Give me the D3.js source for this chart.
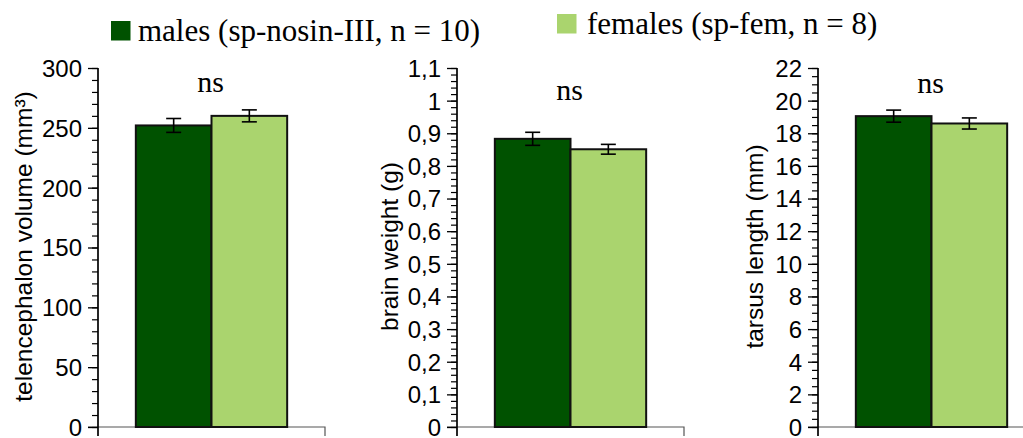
<!DOCTYPE html>
<html>
<head>
<meta charset="utf-8">
<script src="https://cdn.jsdelivr.net/npm/d3@7"></script>
<style>
  body { margin: 0; background: #fff; }
  svg { display: block; }
</style>
</head>
<body>
<svg id="chart" width="1023" height="438"></svg>
<script>
// ---- data ----
const series = ["males (sp-nosin-III, n = 10)", "females (sp-fem, n = 8)"];
const seriesKeys = ["males", "females"];
const colors = ["#005200", "#aad46e"];

const panelTitles = ["telencephalon volume (mm³)", "brain weight (g)", "tarsus length (mm)"];
const panelMeans = [[252, 260], [0.883, 0.851], [19.05, 18.6]];
const panelErrors = [[5.8, 5.0], [0.02, 0.015], [0.37, 0.34]];
const panelMax = [300, 1.1, 22];
const panelMajor = [50, 0.1, 2];
const panelMinor = [10, 0.02, 0.5];
const panelSig = ["ns", "ns", "ns"];

// ---- layout ----
const SERIF = '"Liberation Serif", "Times New Roman", serif';
const SANS = '"Liberation Sans", Arial, sans-serif';
const svg = d3.select("#chart");
const axisXs = [98, 457, 818];
const titleOffsets = [66, 59, 55];
const sigY = [92, 100, 93];
const panelSpan = 227;
const yTop = 68, yBottom = 427;
const fmtComma = v => {
  const r = Math.round(v * 1000) / 1000;
  return String(r).replace(".", ",");
};

panelTitles.forEach((title, i) => {
  const x0 = axisXs[i];
  const y = d3.scaleLinear().domain([0, panelMax[i]]).range([yBottom, yTop]);
  const x = d3.scaleBand().domain(seriesKeys).range([x0, x0 + panelSpan])
    .paddingInner(0).paddingOuter(0.5);
  const g = svg.append("g");

  const majors = d3.range(0, panelMax[i] + panelMajor[i] / 2, panelMajor[i]);
  const minors = d3.range(0, panelMax[i] + panelMinor[i] / 2, panelMinor[i]);

  // x axis baseline (gray) with right end tick
  g.append("path")
    .attr("d", `M${x0 - 10},${y(0)}H${x0 + panelSpan}V${y(0) + 9}`)
    .attr("fill", "none").attr("stroke", "#555").attr("stroke-width", 1.2);

  // bars
  seriesKeys.forEach((k, j) => {
    const v = panelMeans[i][j];
    g.append("rect")
      .attr("x", x(k)).attr("width", x.bandwidth())
      .attr("y", y(v)).attr("height", y(0) - y(v))
      .attr("fill", colors[j]).attr("stroke", "#111").attr("stroke-width", 2);
  });

  // error bars
  seriesKeys.forEach((k, j) => {
    const v = panelMeans[i][j], e = panelErrors[i][j];
    const cx = x(k) + x.bandwidth() / 2;
    const eg = g.append("g").attr("stroke", "#000").attr("stroke-width", 1.6);
    eg.append("line").attr("x1", cx).attr("x2", cx).attr("y1", y(v + e)).attr("y2", y(v - e));
    eg.append("line").attr("x1", cx - 7.5).attr("x2", cx + 7.5).attr("y1", y(v + e)).attr("y2", y(v + e));
    eg.append("line").attr("x1", cx - 7.5).attr("x2", cx + 7.5).attr("y1", y(v - e)).attr("y2", y(v - e));
  });

  // minor ticks
  const minorAxis = d3.axisLeft(y).tickValues(minors).tickSize(6).tickFormat("").tickSizeOuter(0);
  const ma = g.append("g").attr("transform", `translate(${x0},0)`).call(minorAxis);
  ma.select(".domain").remove();
  ma.selectAll("line").attr("stroke", "#000").attr("stroke-width", 1.2);

  // major ticks
  const majorAxis = d3.axisLeft(y).tickValues(majors).tickSize(10).tickPadding(6)
    .tickFormat(fmtComma).tickSizeOuter(0);
  const mg = g.append("g").attr("transform", `translate(${x0},0)`).call(majorAxis);
  mg.select(".domain").remove();
  mg.selectAll("line").attr("stroke", "#000").attr("stroke-width", 1.3);
  mg.selectAll("text")
    .style("font-family", SANS).style("font-size", "24px")
    .attr("fill", "#000").attr("dy", "0.35em");

  // y axis line extended below zero
  g.append("line").attr("x1", x0).attr("x2", x0).attr("y1", yTop).attr("y2", y(0) + 9)
    .attr("stroke", "#000").attr("stroke-width", 1.7);

  // axis title
  g.append("text")
    .attr("transform", `translate(${x0 - titleOffsets[i]},${(yTop + yBottom) / 2 - 1}) rotate(-90)`)
    .attr("text-anchor", "middle")
    .style("font-family", SANS).style("font-size", "24.5px")
    .attr("fill", "#000").text(title);

  // significance label
  g.append("text")
    .attr("x", x0 + panelSpan / 2 - 1).attr("y", sigY[i])
    .attr("text-anchor", "middle")
    .style("font-family", SERIF).style("font-size", "30px")
    .attr("fill", "#000").text(panelSig[i]);
});

// ---- legend ----
const legendItems = [
  { sq: [111, 21], tx: [138, 41] },
  { sq: [557, 14], tx: [587, 34] }
];
series.forEach((s, j) => {
  const L = legendItems[j];
  svg.append("rect").attr("x", L.sq[0]).attr("y", L.sq[1]).attr("width", 19.5).attr("height", 19.5)
    .attr("fill", colors[j]);
  svg.append("text").attr("x", L.tx[0]).attr("y", L.tx[1])
    .style("font-family", SERIF).style("font-size", "31px")
    .attr("fill", "#000").text(s);
});
</script>
</body>
</html>
